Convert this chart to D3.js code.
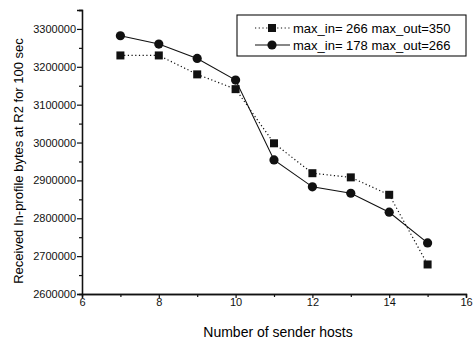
<!DOCTYPE html>
<html lang="en">
<head>
<meta charset="UTF-8">
<title>Received In-profile bytes</title>
<script src="https://d3js.org/d3.v7.min.js"></script>
<style>
    body { margin: 0; background: #fff; font-family: "Liberation Sans", Arial, sans-serif; }
    .tick text { font-size: 11px; fill: #111; }
</style>
</head>
<body>
<svg width="476" height="343"></svg>
<script>
    const hosts = [7, 8, 9, 10, 11, 12, 13, 14, 15];
    const seriesA = [3230000, 3230000, 3180000, 3141000, 2998000, 2919000, 2908000, 2862000, 2678000];
    const seriesB = [3282000, 3260000, 3222000, 3165000, 2954000, 2883000, 2866000, 2816000, 2735000];
    const labels = ["max_in= 266 max_out=350", "max_in= 178 max_out=266"];
    const xTicks = [6, 8, 10, 12, 14, 16];
    const yTicks = [2600000, 2700000, 2800000, 2900000, 3000000, 3100000, 3200000, 3300000];

    const svg = d3.select("svg"),
          margin = {top: 10, right: 10, bottom: 49, left: 82},
          width = 476 - margin.left - margin.right,
          height = 343 - margin.top - margin.bottom,
          g = svg.append("g").attr("transform", `translate(${margin.left},${margin.top})`);

    const x = d3.scaleLinear().domain([6, 16]).range([0, width]),
          y = d3.scaleLinear().domain([2600000, 3350000]).range([height, 0]);

    // axes with minor ticks
    g.append("g").attr("transform", `translate(0,${height})`)
        .call(d3.axisBottom(x).tickValues(d3.range(7, 16, 2)).tickSize(3).tickFormat(""));
    g.append("g").attr("transform", `translate(0,${height})`)
        .call(d3.axisBottom(x).tickValues(xTicks).tickSize(4).tickPadding(0).tickFormat(d3.format("d")));
    g.append("g")
        .call(d3.axisLeft(y).tickValues(d3.range(2650000, 3360000, 100000)).tickSize(3).tickFormat(""));
    g.append("g")
        .call(d3.axisLeft(y).tickValues(yTicks).tickSize(5).tickPadding(1).tickFormat(d3.format("d")));
    g.selectAll(".domain").attr("stroke", "#111").attr("stroke-width", 1.3);
    g.selectAll(".tick line").attr("stroke", "#111").attr("stroke-width", 1.2);

    g.append("text")
        .attr("x", x(6) + 196)
        .attr("y", height + 43)
        .attr("text-anchor", "middle")
        .attr("font-size", 14)
        .text("Number of sender hosts");

    g.append("text")
        .attr("transform", `translate(${-59},${151}) rotate(-90)`)
        .attr("text-anchor", "middle")
        .attr("font-size", 13)
        .text("Received In-profile bytes at R2 for 100 sec");

    const line = d3.line().x(d => x(d[0])).y(d => y(d[1]));
    const dataA = hosts.map((h, i) => [h, seriesA[i]]);
    const dataB = hosts.map((h, i) => [h, seriesB[i]]);

    g.append("path").datum(dataA).attr("d", line)
        .attr("fill", "none").attr("stroke", "#111").attr("stroke-width", 1.2)
        .attr("stroke-dasharray", "1.2,2.5");
    g.append("path").datum(dataB).attr("d", line)
        .attr("fill", "none").attr("stroke", "#111").attr("stroke-width", 1.1);

    const sq = 8;
    g.selectAll(".sq").data(dataA).enter().append("rect")
        .attr("x", d => x(d[0]) - sq / 2).attr("y", d => y(d[1]) - sq / 2)
        .attr("width", sq).attr("height", sq).attr("fill", "#111");
    g.selectAll(".ci").data(dataB).enter().append("circle")
        .attr("cx", d => x(d[0])).attr("cy", d => y(d[1]))
        .attr("r", 4.6).attr("fill", "#111");

    // legend
    const legend = svg.append("g").attr("transform", "translate(237,15)");
    legend.append("rect").attr("width", 229).attr("height", 41)
        .attr("fill", "#fff").attr("stroke", "#111").attr("stroke-width", 1.1);
    labels.forEach((lab, i) => {
        const ly = 13 + i * 17;
        legend.append("line").attr("x1", 18).attr("x2", 53).attr("y1", ly).attr("y2", ly)
            .attr("stroke", "#111").attr("stroke-width", 1.1)
            .attr("stroke-dasharray", i === 0 ? "1.2,2.5" : null);
        if (i === 0) {
            legend.append("rect").attr("x", 35 - sq / 2).attr("y", ly - sq / 2)
                .attr("width", sq).attr("height", sq).attr("fill", "#111");
        } else {
            legend.append("circle").attr("cx", 35).attr("cy", ly).attr("r", 4.6).attr("fill", "#111");
        }
        legend.append("text").attr("x", 56).attr("y", ly + 4.5)
            .attr("font-size", 13).text(lab);
    });
</script>
</body>
</html>
